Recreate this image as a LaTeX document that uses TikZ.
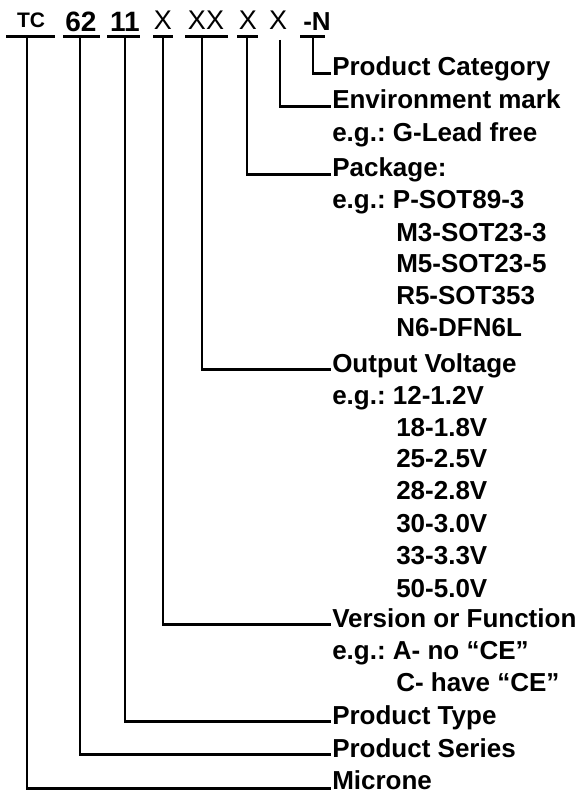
\documentclass[tikz,border=0pt]{standalone}
\usepackage{fontspec}
\setmainfont{Liberation Sans}
\frenchspacing

\begin{document}
\begin{tikzpicture}[x=1pt,y=-1pt,line width=2.5pt,
  code/.style={anchor=base,inner sep=0pt},
  lbl/.style={anchor=base west,inner sep=0pt,font=\bfseries\fontsize{26}{30}\selectfont}]
  \useasboundingbox (0,0) rectangle (582,794);
  % part number
  \node[code,font=\bfseries\fontsize{21}{24}\selectfont] (tc) at (31,28) {TC};
  \node[code,font=\bfseries\fontsize{28}{32}\selectfont] (p62) at (81,32) {62};
  \node[code,font=\bfseries\fontsize{28}{32}\selectfont] (p11) at (125,32) {11};
  \node[code,font=\fontsize{27}{30}\selectfont] (x1) at (163,30) {X};
  \node[code,font=\fontsize{27}{30}\selectfont] (xx) at (206,30) {XX};
  \node[code,font=\fontsize{27}{30}\selectfont] (x2) at (248,30) {X};
  \node[code,font=\fontsize{27}{30}\selectfont] (x3) at (278,30) {X};
  \node[code,font=\bfseries\fontsize{26}{30}\selectfont] (pn) at (317,31) {-N};
  \draw (6,36.5) -- (55,36.5);
  \draw (63,36.5) -- (100,36.5);
  \draw (107,36.5) -- (140,36.5);
  \draw (153,36.5) -- (173,36.5);
  \draw (185,36.5) -- (228,36.5);
  \draw (237,36.5) -- (258,36.5);
  \draw (300,36.5) -- (325,36.5);
  \coordinate (tcTop) at (27,36.5);
  \coordinate (p62Top) at (80,36.5);
  \coordinate (p11Top) at (125,36.5);
  \coordinate (x1Top) at (163,36.5);
  \coordinate (xxTop) at (202,36.5);
  \coordinate (x2Top) at (247,36.5);
  \coordinate (x3Top) at (280,40);
  \coordinate (pnTop) at (313,36.5);
  % meanings
  \node[lbl] (cat) at (331,76) {Product Category};
  \node[lbl] (env) at (331,109) {Environment mark};
  \node[lbl] (envEg) at (331,142) {e.g.: G-Lead free};
  \node[lbl] (pkg) at (331,177) {Package:};
  \node[lbl] (pkgEg) at (331,209) {e.g.: P-SOT89-3};
  \node[lbl] (pkgM3) at (395,241) {M3-SOT23-3};
  \node[lbl] (pkgM5) at (395,272) {M5-SOT23-5};
  \node[lbl] (pkgR5) at (395,304) {R5-SOT353};
  \node[lbl] (pkgN6) at (395,336) {N6-DFN6L};
  \node[lbl] (volt) at (331,372) {Output Voltage};
  \node[lbl] (voltEg) at (331,404) {e.g.: 12-1.2V};
  \node[lbl] (v18) at (395,436) {18-1.8V};
  \node[lbl] (v25) at (395,467) {25-2.5V};
  \node[lbl] (v28) at (395,499) {28-2.8V};
  \node[lbl] (v30) at (395,532) {30-3.0V};
  \node[lbl] (v33) at (395,564) {33-3.3V};
  \node[lbl] (v50) at (395,597) {50-5.0V};
  \node[lbl] (ver) at (331,627) {Version or Function};
  \node[lbl] (verA) at (331,659) {e.g.: A- no ``CE''};
  \node[lbl] (verC) at (395,691) {C- have ``CE''};
  \node[lbl] (type) at (331,724) {Product Type};
  \node[lbl] (ser) at (331,757) {Product Series};
  \node[lbl] (mic) at (331,789) {Microne};
  % connectors
  \draw (pnTop) |- (cat.mid west);
  \draw (x3Top) |- (env.mid west);
  \draw (x2Top) |- (pkg.mid west);
  \draw (xxTop) |- (volt.mid west);
  \draw (x1Top) |- (ver.mid west);
  \draw (p11Top) |- (type.mid west);
  \draw (p62Top) |- (ser.mid west);
  \draw (tcTop) |- ([yshift=-2pt]mic.mid west);
\end{tikzpicture}
\end{document}
